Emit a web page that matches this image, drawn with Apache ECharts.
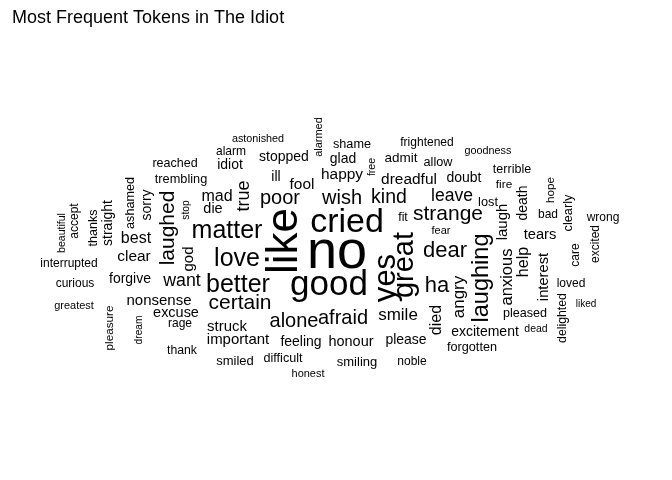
<!DOCTYPE html>
<html>
<head>
    <meta charset="utf-8">
    <title>Most Frequent Tokens in The Idiot</title>
    <script src="https://cdn.jsdelivr.net/npm/echarts@6/dist/echarts.min.js"></script>
    <style>
        html, body { margin: 0; padding: 0; background: #fff; }
        #chart { width: 672px; height: 480px; }
    </style>
</head>
<body>
    <div id="chart"></div>
    <script>
        // tokens and estimated counts (read from word sizes)
        var words = ['no', 'like', 'good', 'cried', 'yes', 'great', 'matter', 'love', 'better', 'laughing',
            'dear', 'ha', 'laughed', 'strange', 'certain', 'alone', 'afraid', 'poor', 'wish', 'kind',
            'true', 'want', 'leave', 'smile', 'angry', 'anxious', 'mad', 'best', 'died', 'help',
            'clear', 'happy', 'fool', 'dreadful', 'struck', 'important', 'nonsense', 'god', 'laugh', 'tears',
            'interest', 'excuse', 'die', 'honour', 'feeling', 'please', 'excitement', 'forgive', 'sorry', 'straight',
            'death', 'doubt', 'idiot', 'stopped', 'glad', 'ill', 'admit', 'smiling', 'smiled', 'lost',
            'trembling', 'clearly', 'forgotten', 'allow', 'shame', 'difficult', 'pleased', 'ashamed', 'reached', 'terrible',
            'thanks', 'fit', 'delighted', 'thank', 'noble', 'loved', 'care', 'excited', 'frightened', 'bad',
            'wrong', 'alarm', 'accept', 'interrupted', 'curious', 'rage', 'fire', 'hope', 'pleasure', 'honest',
            'greatest', 'fear', 'alarmed', 'goodness', 'astonished', 'beautiful', 'free', 'dead', 'stop', 'dream',
            'liked'];
        var counts = [600, 477, 367, 355, 318, 293, 244, 244, 244, 226,
            207, 207, 195, 195, 195, 183, 183, 183, 183, 177,
            158, 155, 153, 146, 146, 140, 134, 134, 134, 134,
            127, 127, 127, 127, 121, 121, 121, 121, 121, 118,
            118, 115, 115, 115, 109, 109, 109, 109, 109, 109,
            109, 109, 109, 109, 109, 109, 103, 97, 97, 94,
            94, 94, 93, 93, 93, 92, 92, 92, 91, 91,
            91, 89, 88, 88, 85, 85, 85, 85, 85, 85,
            85, 85, 85, 85, 85, 85, 82, 81, 81, 72,
            72, 72, 72, 70, 70, 67, 67, 66, 64, 62,
            60];
        // cloud layout (pixel place of each word, and whether it stands upright)
        var layoutX = [337, 285, 329, 347, 386, 405, 227, 237, 238, 482,
            445, 437, 168, 448, 240, 294, 343, 280, 342, 389,
            244, 182, 452, 398, 459, 507, 217, 136, 437, 524,
            134, 342, 302, 409, 227, 238, 159, 189, 503, 540,
            544, 176, 213, 351, 301, 406, 485, 130, 147, 108,
            523, 464, 230, 284, 343, 276, 401, 357, 235, 488,
            181, 568, 472, 438, 352, 283, 525, 131, 175, 512,
            94, 403, 563, 182, 412, 571, 576, 596, 427, 548,
            603, 231, 75, 69, 75, 180, 504, 551, 110, 308,
            74, 441, 319, 488, 258, 62, 372, 536, 186, 139,
            586];
        var layoutY = [253, 241, 285, 223, 278, 265, 231, 259, 285, 278,
            251, 286, 228, 214, 303, 321, 318, 198, 198, 198,
            196, 281, 196, 315, 297, 277, 197, 239, 320, 262,
            257, 175, 185, 180, 327, 340, 301, 259, 222, 235,
            277, 313, 209, 342, 342, 340, 332, 279, 205, 223,
            203, 178, 165, 157, 159, 177, 158, 362, 361, 202,
            179, 213, 347, 162, 144, 359, 314, 203, 164, 170,
            228, 218, 318, 351, 362, 284, 255, 244, 143, 215,
            218, 152, 221, 264, 284, 324, 185, 190, 328, 374,
            306, 231, 137, 151, 139, 233, 167, 329, 210, 330,
            304];
        var upright = [0, 1, 0, 0, 1, 1, 0, 0, 0, 1,
            0, 0, 1, 0, 0, 0, 0, 0, 0, 0,
            1, 0, 0, 0, 1, 1, 0, 0, 1, 1,
            0, 0, 0, 0, 0, 0, 0, 1, 1, 0,
            1, 0, 0, 0, 0, 0, 0, 0, 1, 1,
            1, 0, 0, 0, 0, 0, 0, 0, 0, 0,
            0, 1, 0, 0, 0, 0, 0, 1, 0, 0,
            1, 0, 1, 0, 0, 0, 1, 1, 0, 0,
            0, 0, 1, 0, 0, 0, 0, 1, 1, 0,
            0, 0, 1, 0, 0, 1, 1, 0, 1, 1,
            0];

        var minFont = 10, maxFont = 54;
        var nMin = Math.min.apply(null, counts), nMax = Math.max.apply(null, counts);
        function fontFor(n) {
            return minFont + (n - nMin) / (nMax - nMin) * (maxFont - minFont);
        }

        var cloud = words.map(function(w, i) {
            return {
                name: w,
                value: [layoutX[i], layoutY[i], counts[i]],
                label: {
                    fontSize: fontFor(counts[i]),
                    rotate: upright[i] ? 90 : 0
                }
            };
        });

        var chart = echarts.init(document.getElementById('chart'));
        chart.setOption({
            backgroundColor: '#ffffff',
            animation: false,
            title: {
                text: 'Most Frequent Tokens in The Idiot',
                left: 7,
                top: 4,
                textStyle: {
                    fontFamily: 'Liberation Sans',
                    fontSize: 18,
                    fontWeight: 'normal',
                    color: '#000'
                }
            },
            grid: { left: 0, right: 0, top: 0, bottom: 0 },
            xAxis: { type: 'value', min: 0, max: 672, show: false },
            yAxis: { type: 'value', min: 0, max: 480, inverse: true, show: false },
            series: [{
                type: 'scatter',
                symbolSize: 1,
                itemStyle: { color: 'rgba(0,0,0,0)', opacity: 1 },
                label: {
                    show: true,
                    position: 'inside',
                    formatter: '{b}',
                    color: '#000',
                    opacity: 1,
                    fontFamily: 'Liberation Sans'
                },
                data: cloud
            }]
        });
    </script>
</body>
</html>
